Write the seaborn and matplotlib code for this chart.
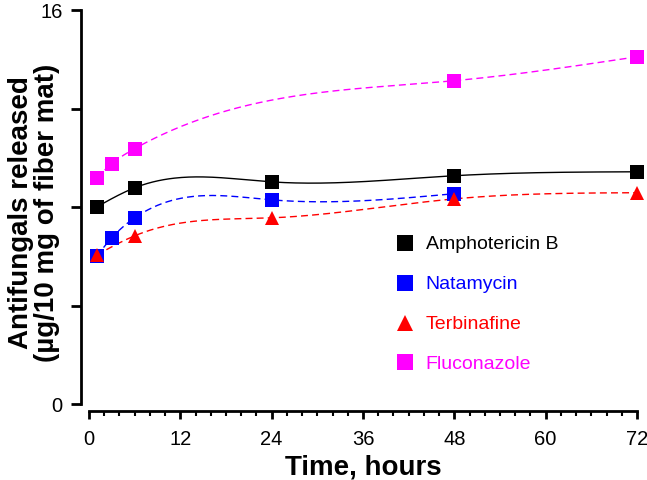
import numpy as np
import pandas as pd
import matplotlib
matplotlib.use("Agg")
import matplotlib.pyplot as plt
import seaborn as sns
from matplotlib.lines import Line2D
from matplotlib.ticker import MultipleLocator

# ---- data ----
amph_t = [1, 6, 24, 48, 72]
amph_v = [8.0, 8.78, 9.02, 9.27, 9.43]
nata_t = [1, 3, 6, 24, 48]
nata_v = [6.0, 6.75, 7.56, 8.29, 8.54]
terb_t = [1, 6, 24, 48, 72]
terb_v = [6.05, 6.83, 7.56, 8.33, 8.58]
fluc_t = [1, 3, 6, 48, 72]
fluc_v = [9.19, 9.76, 10.37, 13.13, 14.1]

series_names = ["Amphotericin B", "Natamycin", "Terbinafine", "Fluconazole"]
series_t = [amph_t, nata_t, terb_t, fluc_t]
series_v = [amph_v, nata_v, terb_v, fluc_v]
colors = ["#000000", "#0000ff", "#ff0000", "#ff00ff"]
markers = ["s", "s", "^", "s"]
styles = ["-", "--", "--", "--"]
x_ticks = [0, 12, 24, 36, 48, 60, 72]
y_ticks = [0, 4, 8, 12, 16]
y_ticklabels = ["0", "", "", "", "16"]


def natural_spline(x, y, xs):
    x = np.asarray(x, float); y = np.asarray(y, float)
    n = len(x)
    h = np.diff(x)
    A = np.zeros((n, n)); b = np.zeros(n)
    A[0, 0] = 1; A[-1, -1] = 1
    for i in range(1, n - 1):
        A[i, i - 1] = h[i - 1]
        A[i, i] = 2 * (h[i - 1] + h[i])
        A[i, i + 1] = h[i]
        b[i] = 3 * ((y[i + 1] - y[i]) / h[i] - (y[i] - y[i - 1]) / h[i - 1])
    c = np.linalg.solve(A, b)
    out = np.empty_like(xs)
    for k, xv in enumerate(xs):
        i = min(max(np.searchsorted(x, xv) - 1, 0), n - 2)
        bi = (y[i + 1] - y[i]) / h[i] - h[i] * (2 * c[i] + c[i + 1]) / 3
        di = (c[i + 1] - c[i]) / (3 * h[i])
        dx = xv - x[i]
        out[k] = y[i] + bi * dx + c[i] * dx ** 2 + di * dx ** 3
    return out


sns.set_style("ticks")
plt.rcParams["font.family"] = ["Liberation Sans", "DejaVu Sans"]
plt.rcParams["text.color"] = "black"
plt.rcParams["axes.labelcolor"] = "black"
plt.rcParams["axes.edgecolor"] = "black"

fig = plt.figure(figsize=(6.47, 4.8), dpi=100)
ax = fig.add_axes([89 / 647, 76 / 480, 548 / 647, 394 / 480])

for name, t, v, c, m, ls in zip(series_names, series_t, series_v, colors, markers, styles):
    xs = np.linspace(t[0], t[-1], 300)
    ys = natural_spline(t, v, xs)
    df = pd.DataFrame({"t": xs, "v": ys})
    if ls == "--":
        sns.lineplot(data=df, x="t", y="v", ax=ax, color=c, linewidth=1.0,
                     linestyle=(0, (5, 3)))
    else:
        sns.lineplot(data=df, x="t", y="v", ax=ax, color=c, linewidth=1.0)
    ax.plot(t, v, linestyle="none", marker=m, color=c, markersize=9.5,
            markeredgewidth=0, zorder=5, clip_on=False)

ax.set_xlim(0, 72)
ax.set_ylim(0, 16)
ax.set_xticks(x_ticks)
ax.xaxis.set_minor_locator(MultipleLocator(2))
ax.set_yticks(y_ticks)
ax.set_yticklabels(y_ticklabels)

for s in ["top", "right"]:
    ax.spines[s].set_visible(False)
ax.spines["left"].set_position(("outward", 6))
ax.spines["bottom"].set_position(("outward", 5))
for s in ["left", "bottom"]:
    ax.spines[s].set_linewidth(2.0)
    ax.spines[s].set_color("black")

ax.tick_params(axis="both", which="major", direction="out", width=2.0,
               labelsize=14.5, colors="black")
ax.tick_params(axis="y", which="major", length=7, pad=6)
ax.tick_params(axis="x", which="major", length=5.5, pad=8)
ax.tick_params(axis="x", which="minor", direction="out", length=3.5, width=1.5,
               colors="black")

ax.set_xlabel("Time, hours", fontsize=20, fontweight="bold", color="black")
ax.xaxis.set_label_coords(0.5, -0.128)
ax.set_ylabel("Antifungals released\n(µg/10 mg of fiber mat)", fontsize=20,
              fontweight="bold", linespacing=1.0, color="black")
ax.yaxis.set_label_coords(-0.053, 0.485)

handles = [Line2D([], [], linestyle="none", marker=m, color=c, markersize=12,
                  markeredgewidth=0) for m, c in zip(markers, colors)]
leg = ax.legend(handles, series_names, loc="upper left",
                bbox_to_anchor=(0.556, 0.427), frameon=False, fontsize=14,
                handletextpad=0.44, labelspacing=1.15, handlelength=1.2,
                borderpad=0, borderaxespad=0, labelcolor=colors)

fig.savefig("out.png", dpi=100, facecolor="white")
